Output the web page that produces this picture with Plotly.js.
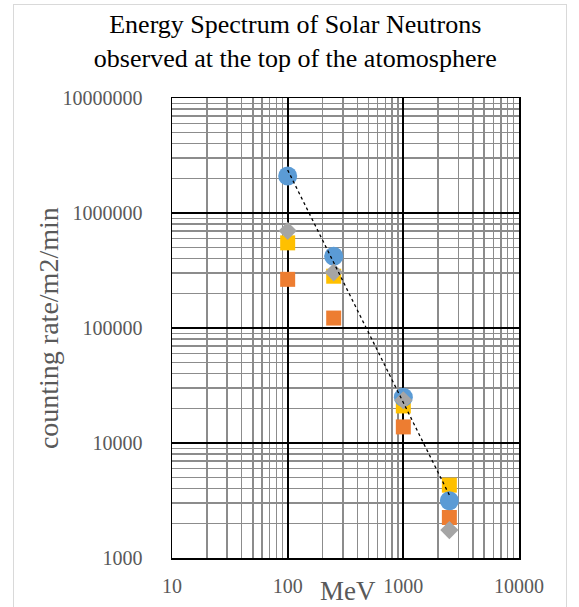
<!DOCTYPE html>
<html>
<head>
<meta charset="utf-8">
<script src="https://cdn.plot.ly/plotly-3.0.1.min.js"></script>
<style>
  html, body { margin: 0; padding: 0; background: #fff; }
  #wrap { position: relative; width: 579px; height: 607px; overflow: hidden; }
  #chart { position: absolute; left: 0; top: 0; width: 579px; height: 607px; }
  #frame { position: absolute; left: 13px; top: 4px; width: 552px; height: 640px;
           border: 1.5px solid #d9d9d9; pointer-events: none; }
</style>
</head>
<body>
<div id="wrap">
  <div id="chart"></div>
  <div id="frame"></div>
</div>
<script>
// ---- data ----
const energyMeV = [100, 250, 1000, 2500];
const seriesBlue   = [2100000, 420000, 25000, 3150];
const seriesGray   = [700000, 305000, 23500, 1750];
const seriesYellow = [550000, 282000, 21000, 4300];
const seriesOrange = [265000, 122000, 13800, 2250];
const xTickVals = [10, 100, 1000, 10000];
const xTickText = ['10', '100', '1000', '10000'];
const yTickVals = [1000, 10000, 100000, 1000000, 10000000];
const yTickText = ['1000', '10000', '100000', '1000000', '10000000'];

// power-law trend line (least squares in log-log) of the blue series
const lx = energyMeV.map(Math.log10), ly = seriesBlue.map(Math.log10);
const mx = lx.reduce((a, b) => a + b) / lx.length;
const my = ly.reduce((a, b) => a + b) / ly.length;
let sxy = 0, sxx = 0;
lx.forEach((v, i) => { sxy += (v - mx) * (ly[i] - my); sxx += (v - mx) * (v - mx); });
const slope = sxy / sxx, icpt = my - slope * mx;
const trendX = [Math.min(...energyMeV), Math.max(...energyMeV)];
const trendY = trendX.map(x => Math.pow(10, icpt + slope * Math.log10(x)));

const serif = 'Liberation Serif, Times New Roman, serif';
const tickGray = '#595959';

function mk(y, color, symbol, size) {
  return { x: energyMeV, y: y, type: 'scatter', mode: 'markers',
           marker: { color: color, symbol: symbol, size: size, line: { width: 0 } },
           hoverinfo: 'x+y', showlegend: false };
}

const data = [
  mk(seriesYellow, '#FFC000', 'square', 15),
  mk(seriesOrange, '#ED7D31', 'square', 15),
  mk(seriesBlue, '#5B9BD5', 'circle', 19),
  mk(seriesGray, '#A5A5A5', 'diamond', 14),
  { x: trendX, y: trendY, type: 'scatter', mode: 'lines',
    line: { color: '#000', width: 1.3, dash: 'dot' }, showlegend: false, hoverinfo: 'skip' }
];

const axisCommon = {
  type: 'log', showline: true, linecolor: '#000', linewidth: 1.5, mirror: true,
  showgrid: true, gridcolor: '#000', gridwidth: 1.8, zeroline: false,
  ticks: '', tickmode: 'array',
  tickfont: { family: serif, size: 20, color: tickGray },
  minor: { dtick: 'D1', showgrid: true, gridcolor: '#8c8c8c', gridwidth: 1.4, ticks: '' }
};

const layout = {
  width: 579, height: 607,
  margin: { l: 172, r: 60, t: 98, b: 49 },
  paper_bgcolor: 'rgba(0,0,0,0)', plot_bgcolor: '#fff',
  title: {
    text: 'Energy Spectrum of Solar Neutrons<br>observed at the top of the atomosphere',
    font: { family: serif, size: 26, color: '#000' },
    x: 0.51, xanchor: 'center', xref: 'container',
    y: 0.945, yanchor: 'top', yref: 'container'
  },
  xaxis: Object.assign({}, axisCommon, {
    range: [1, 4], tickvals: xTickVals, ticktext: xTickText, ticklabelstandoff: 9
  }),
  yaxis: Object.assign({}, axisCommon, {
    range: [3, 7], tickvals: yTickVals, ticktext: yTickText, ticklabelstandoff: 24
  }),
  annotations: [
    { text: 'MeV', xref: 'paper', yref: 'paper', x: 0.507, y: -0.072,
      xanchor: 'center', yanchor: 'middle', showarrow: false,
      font: { family: serif, size: 27, color: tickGray } },
    { text: 'counting rate/m2/min', xref: 'paper', yref: 'paper', x: -0.357, y: 0.5,
      xanchor: 'center', yanchor: 'middle', showarrow: false, textangle: -90,
      font: { family: serif, size: 28, color: tickGray } }
  ]
};

Plotly.newPlot('chart', data, layout, { displayModeBar: false, staticPlot: true });
</script>
</body>
</html>
